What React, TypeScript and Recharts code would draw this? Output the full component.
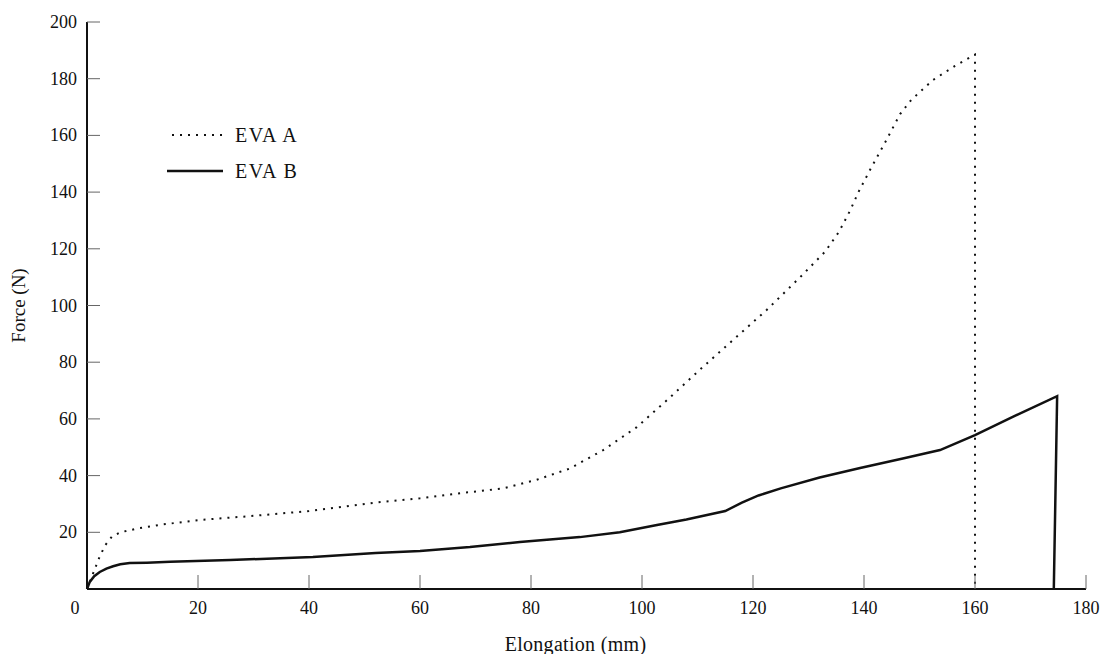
import React from 'react';
import { LineChart, Line, XAxis, YAxis, Legend } from 'recharts';

// EVA A (dotted) - elongation (mm) / force (N)
const evaAElong = [0, 0.6, 1.3, 2.3, 3.3, 4.5, 6, 9, 13, 20, 30, 40, 52, 60, 66, 75, 81, 87, 93, 99, 105, 110.5, 116.5, 122.5, 128.5, 133, 135.5, 137.5, 139, 141, 143.8, 146.5, 148.5, 152.4, 156.4, 160, 160];
const evaAForce = [0, 3, 6.5, 11.5, 15.5, 18.5, 20, 21.3, 22.6, 24.3, 25.8, 27.5, 30.5, 32, 33.5, 35.5, 38.5, 42.5, 49, 57, 67.5, 77.5, 88, 98.5, 110, 119, 126, 133.5, 140, 147.5, 157.5, 167.5, 172.5, 179.5, 184.5, 188.5, 0];

// EVA B (solid)
const evaBElong = [0, 0.5, 1.3, 2.3, 3.5, 4.7, 6, 7.7, 10.8, 15, 25.8, 40.7, 52, 60, 69, 78, 88.8, 96, 102.7, 108, 115, 118, 121, 125, 132, 139.3, 147, 153.7, 160, 166.8, 174.8, 174.2];
const evaBForce = [0, 2.5, 4.5, 6, 7.2, 8, 8.7, 9.2, 9.3, 9.6, 10.2, 11.3, 12.7, 13.4, 14.8, 16.6, 18.3, 20, 22.6, 24.5, 27.5, 30.5, 33, 35.5, 39.3, 42.7, 46, 49, 54.3, 60.7, 68, 0];

const xTicks = [0, 20, 40, 60, 80, 100, 120, 140, 160, 180];
const yTicks = [0, 20, 40, 60, 80, 100, 120, 140, 160, 180, 200];

const seriesNames = ['EVA A', 'EVA B'];

const evaA = evaAElong.map((x, i) => ({ x, y: evaAForce[i] }));
const evaB = evaBElong.map((x, i) => ({ x, y: evaBForce[i] }));

const FONT = '"Liberation Serif", "Times New Roman", serif';

const YTick = (props: any) => {
  const { x, y, payload } = props;
  if (payload.value === 0) return <g />;
  return (
    <g>
      <line x1={x} y1={y} x2={x + 13} y2={y} stroke="#666" strokeWidth={1} />
      <text x={x - 10} y={y + 6} textAnchor="end" fill="#111" fontSize={18} fontFamily={FONT}>
        {payload.value}
      </text>
    </g>
  );
};

const XTick = (props: any) => {
  const { x, y, payload } = props;
  const shift = payload.value === 0 ? -12 : 0;
  return (
    <g>
      {payload.value !== 0 && <line x1={x} y1={y} x2={x} y2={y - 14} stroke="#666" strokeWidth={1} />}
      <text x={x + shift} y={y + 25} textAnchor="middle" fill="#111" fontSize={18} fontFamily={FONT}>
        {payload.value}
      </text>
    </g>
  );
};

const renderLegend = (props: any) => {
  const items = props.payload || [];
  return (
    <div style={{ fontFamily: FONT }}>
      {items.map((entry: any) => {
        const dotted = entry.value === seriesNames[0];
        return (
          <div key={entry.value} style={{ display: 'flex', alignItems: 'center', height: 36 }}>
            <svg width={58} height={10} style={{ marginRight: 10 }}>
              <line
                x1={dotted ? 5 : 0}
                y1={5}
                x2={56}
                y2={5}
                stroke="#111"
                strokeWidth={dotted ? 2 : 2.5}
                strokeDasharray={dotted ? '2 6' : undefined}
              />
            </svg>
            <span style={{ fontSize: 20, color: '#111', letterSpacing: 1.5 }}>{entry.value}</span>
          </div>
        );
      })}
    </div>
  );
};

export default function App() {
  return (
    <div style={{ position: 'absolute', left: 0, top: 0, background: '#fff' }}>
      <LineChart width={1103} height={654} margin={{ top: 22, right: 17, bottom: 0, left: 0 }}>
        <XAxis
          type="number"
          dataKey="x"
          domain={[0, 180]}
          ticks={xTicks}
          height={65}
          tickSize={0}
          tickMargin={0}
          tickLine={false}
          tick={<XTick />}
          axisLine={{ stroke: '#111', strokeWidth: 2 }}
          allowDuplicatedCategory={false}
          label={{
            value: 'Elongation (mm)',
            position: 'insideBottom',
            offset: 3,
            dx: -11,
            style: { fontFamily: FONT, fontSize: 20, fill: '#111', letterSpacing: 0.3 },
          }}
        />
        <YAxis
          type="number"
          dataKey="y"
          domain={[0, 200]}
          ticks={yTicks}
          width={87}
          tickSize={0}
          tickMargin={0}
          tickLine={false}
          tick={<YTick />}
          axisLine={{ stroke: '#111', strokeWidth: 2 }}
          label={{
            value: 'Force (N)',
            angle: -90,
            position: 'insideLeft',
            offset: 18,
            style: { fontFamily: FONT, fontSize: 19, fill: '#111', textAnchor: 'middle' },
          }}
        />
        <Legend
          layout="vertical"
          align="center"
          verticalAlign="middle"
          content={renderLegend}
          wrapperStyle={{ position: 'absolute', left: 167, top: 117, width: 200 }}
        />
        <Line
          data={evaA}
          dataKey="y"
          name={seriesNames[0]}
          type="linear"
          stroke="#111"
          strokeWidth={2}
          strokeDasharray="2 6"
          dot={false}
          activeDot={false}
          isAnimationActive={false}
        />
        <Line
          data={evaB}
          dataKey="y"
          name={seriesNames[1]}
          type="linear"
          stroke="#111"
          strokeWidth={2.5}
          dot={false}
          activeDot={false}
          isAnimationActive={false}
        />
      </LineChart>
    </div>
  );
}
